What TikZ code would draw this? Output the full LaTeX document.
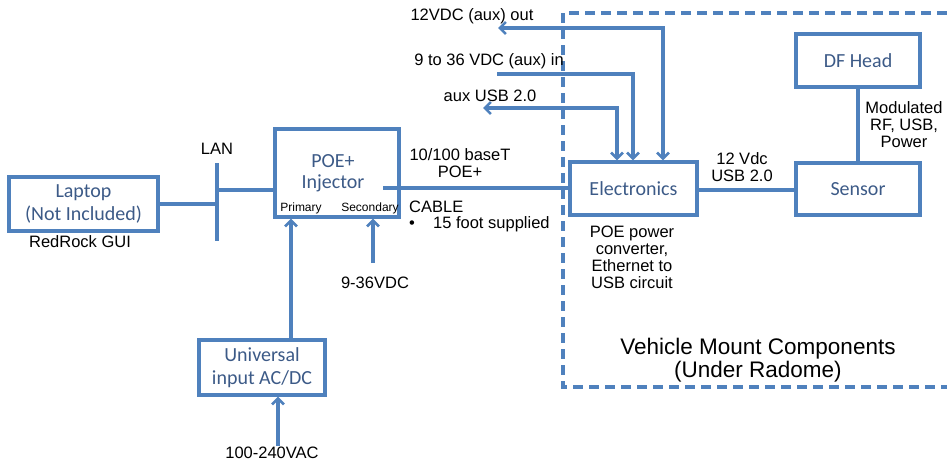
\documentclass[tikz,border=0pt]{standalone}
\usepackage{fontspec}
\setmainfont{Liberation Sans}
\newfontfamily\boxfont{Carlito}
\usetikzlibrary{arrows.meta}
\definecolor{lineblue}{RGB}{79,129,189}
\definecolor{boxtext}{RGB}{60,90,135}

\begin{document}
\begin{tikzpicture}[x=1pt,y=-1pt,
    blk/.style={draw=lineblue,line width=3.3pt,align=center,inner sep=0pt,
        text=boxtext,font=\boxfont\fontsize{20}{23}\selectfont},
    wire/.style={draw=lineblue,line width=3.3pt},
    tip/.tip={Straight Barb[length=6pt,width=12pt,line width=2.6pt]},
    arr/.style={wire,-tip},
    lbl/.style={align=center,inner sep=0pt,font=\fontsize{16.5}{17}\selectfont},
    tiny/.style={inner sep=0pt,font=\fontsize{12}{13}\selectfont}]
    \useasboundingbox (0,0) rectangle (947,463);
    % vehicle mount area
    \draw[lineblue,line width=3.3pt,dash pattern=on 10pt off 6pt] (947,13) -- (563,13) -- (563,387) -- (947,387);
    \node[lbl,font=\fontsize{22.5}{22.5}\selectfont] (vmc) at (758,360) {Vehicle Mount Components\\(Under Radome)};
    % boxes
    \node[blk,minimum width=149pt,minimum height=54pt] (laptop) at (83.5,204) {Laptop\\(Not Included)};
    \node[blk,minimum width=124pt,minimum height=88pt] (poe) at (337,173) {};
    \node[inner sep=0pt,text=boxtext,font=\boxfont\fontsize{20}{21}\selectfont,align=center] (poetxt) at (333,173) {POE+\\Injector};
    \node[blk,minimum width=126pt,minimum height=55pt] (univ) at (262,367.5) {Universal\\input AC/DC};
    \node[blk,minimum width=127pt,minimum height=53pt] (elec) at (633.5,188.5) {Electronics};
    \node[blk,minimum width=124pt,minimum height=52pt] (sensor) at (858,189) {Sensor};
    \node[blk,minimum width=124pt,minimum height=53pt] (dfhead) at (858,60.5) {DF Head};
    \node[tiny] (prim) at (301,208) {Primary};
    \node[tiny] (sec) at (370,208) {Secondary};
    % LAN bar
    \coordinate (lantop) at (217,163);
    \coordinate (lanbot) at (217,241);
    \draw[wire] (lantop) -- (lanbot);
    \node[lbl] (lan) at (217,149) {LAN};
    \node[lbl] (gui) at (80,242) {RedRock GUI};
    \draw[wire] (laptop.east) -- (laptop.east -| lantop);
    \draw[wire] (217,190) -- (poe.west |- 0,190);
    % cable
    \coordinate (cab) at (383,188);
    \draw[wire] (cab) -- (elec.west |- cab);
    \node[lbl] (cabtop) at (460,163) {10/100 baseT\\POE+};
    \node[lbl,anchor=west] (cable) at (409,207) {CABLE};
    \node[lbl,anchor=west] (foot) at (409,224) {\textbullet\hspace{1.1em}15 foot supplied};
    % power inputs
    \coordinate (pri) at (291,0);
    \draw[arr] (univ.north -| pri) -- (poe.south -| pri);
    \coordinate (vdc) at (373,263);
    \draw[arr] (vdc) -- (poe.south -| vdc);
    \node[lbl] (vdclbl) at (375,283) {9-36VDC};
    \coordinate (vac) at (278,446);
    \draw[arr] (vac) -- (univ.south -| vac);
    \node[lbl] (vaclbl) at (272,453) {100-240VAC};
    % aux lines
    \coordinate (auxout) at (498,28);
    \coordinate (auxin) at (497,74);
    \coordinate (auxusb) at (483,108);
    \draw[wire,tip-tip] (auxout) -| (elec.north -| 663,0);
    \draw[arr] (auxin) -| (elec.north -| 633,0);
    \draw[wire,tip-tip] (auxusb) -| (elec.north -| 617,0);
    \node[lbl] (outlbl) at (472,16) {12VDC (aux) out};
    \node[lbl] (inlbl) at (489,61) {9 to 36 VDC (aux) in};
    \node[lbl] (usblbl) at (490,96) {aux USB 2.0};
    % vehicle side
    \node[lbl] (conv) at (632,257) {POE power\\converter,\\Ethernet to\\USB circuit};
    \draw[wire] (elec.east |- 0,190) -- (sensor.west |- 0,190);
    \node[lbl] (usb) at (742,167) {12 Vdc\\USB 2.0};
    \draw[wire] (dfhead) -- (sensor);
    \node[lbl] (rf) at (904,125) {Modulated\\RF, USB,\\Power};
\end{tikzpicture}
\end{document}
